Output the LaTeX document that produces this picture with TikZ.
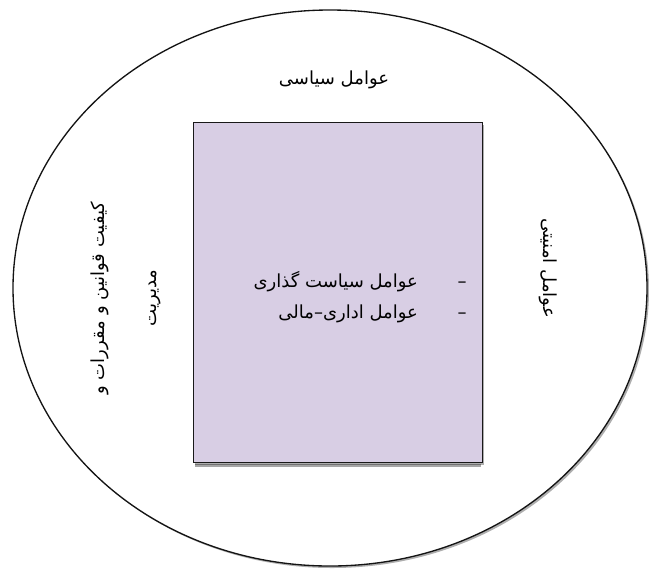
\documentclass[tikz,border=0pt]{standalone}
\usepackage{fontspec}
\newfontfamily\arabicfont[Script=Arabic]{DejaVu Sans}
\TeXXeTstate=1
\usetikzlibrary{shapes.geometric,shadows}

\tikzset{every picture/.style={line width=0.75pt}}
\tikzset{
  factor/.style={inner sep=0.75pt, font=\arabicfont\fontsize{13.5}{23}\selectfont, align=center},
  boxshadow/.style={drop shadow={shadow xshift=1.5pt, shadow yshift=-1.5pt, opacity=0.45, fill=black!70}}
}

\begin{document}
\begin{tikzpicture}[x=0.75pt,y=0.75pt,yscale=-1,xscale=1]
\useasboundingbox (0,0) rectangle (649,572);

%Shape: Ellipse [id:outer]
\node (outer) [draw, ellipse, line width=1pt, minimum width=634*0.75pt, minimum height=556*0.75pt, inner sep=0pt, color={rgb, 255:red, 20; green, 20; blue, 20 }, fill=white, boxshadow] at (330,288) {};
%Shape: Rectangle [id:core]
\node (core) [draw, rectangle, minimum width=289*0.75pt, minimum height=340*0.75pt, inner sep=0pt, color={rgb, 255:red, 25; green, 25; blue, 25 }, fill={rgb, 255:red, 216; green, 206; blue, 228 }, boxshadow] at (337.5,292.5) {};
%Shape: Bevel [id:corebevel]
\draw [white, opacity=0.7, line width=1.5pt] ([xshift=1.5pt, yshift=-1.8pt]core.north west) -- ([xshift=-1.5pt, yshift=-1.8pt]core.north east);
\draw [black, opacity=0.35, line width=2pt] ([xshift=1.5pt, yshift=2pt]core.south west) -- ([xshift=-1.5pt, yshift=2pt]core.south east);

% Text Node
\draw (334,80) node (political) [factor] {\beginR عوامل سیاسی\endR};
% Text Node
\draw (126,298) node (legal) [factor, rotate=90, font=\arabicfont\fontsize{13.5}{39}\selectfont] {\beginR کیفیت قوانین و مقررات و\endR\\\beginR مدیریت\endR};
% Text Node
\draw (548,268) node (security) [factor, rotate=-90] {\beginR عوامل امنیتی\endR};
% Text Node
\draw (468,297) node (inner) [factor, anchor=east, align=right] {\beginR –\hspace{2.2em}عوامل سیاست گذاری\endR\\\beginR –\hspace{2.2em}عوامل اداری–مالی\endR};

\end{tikzpicture}
\end{document}
